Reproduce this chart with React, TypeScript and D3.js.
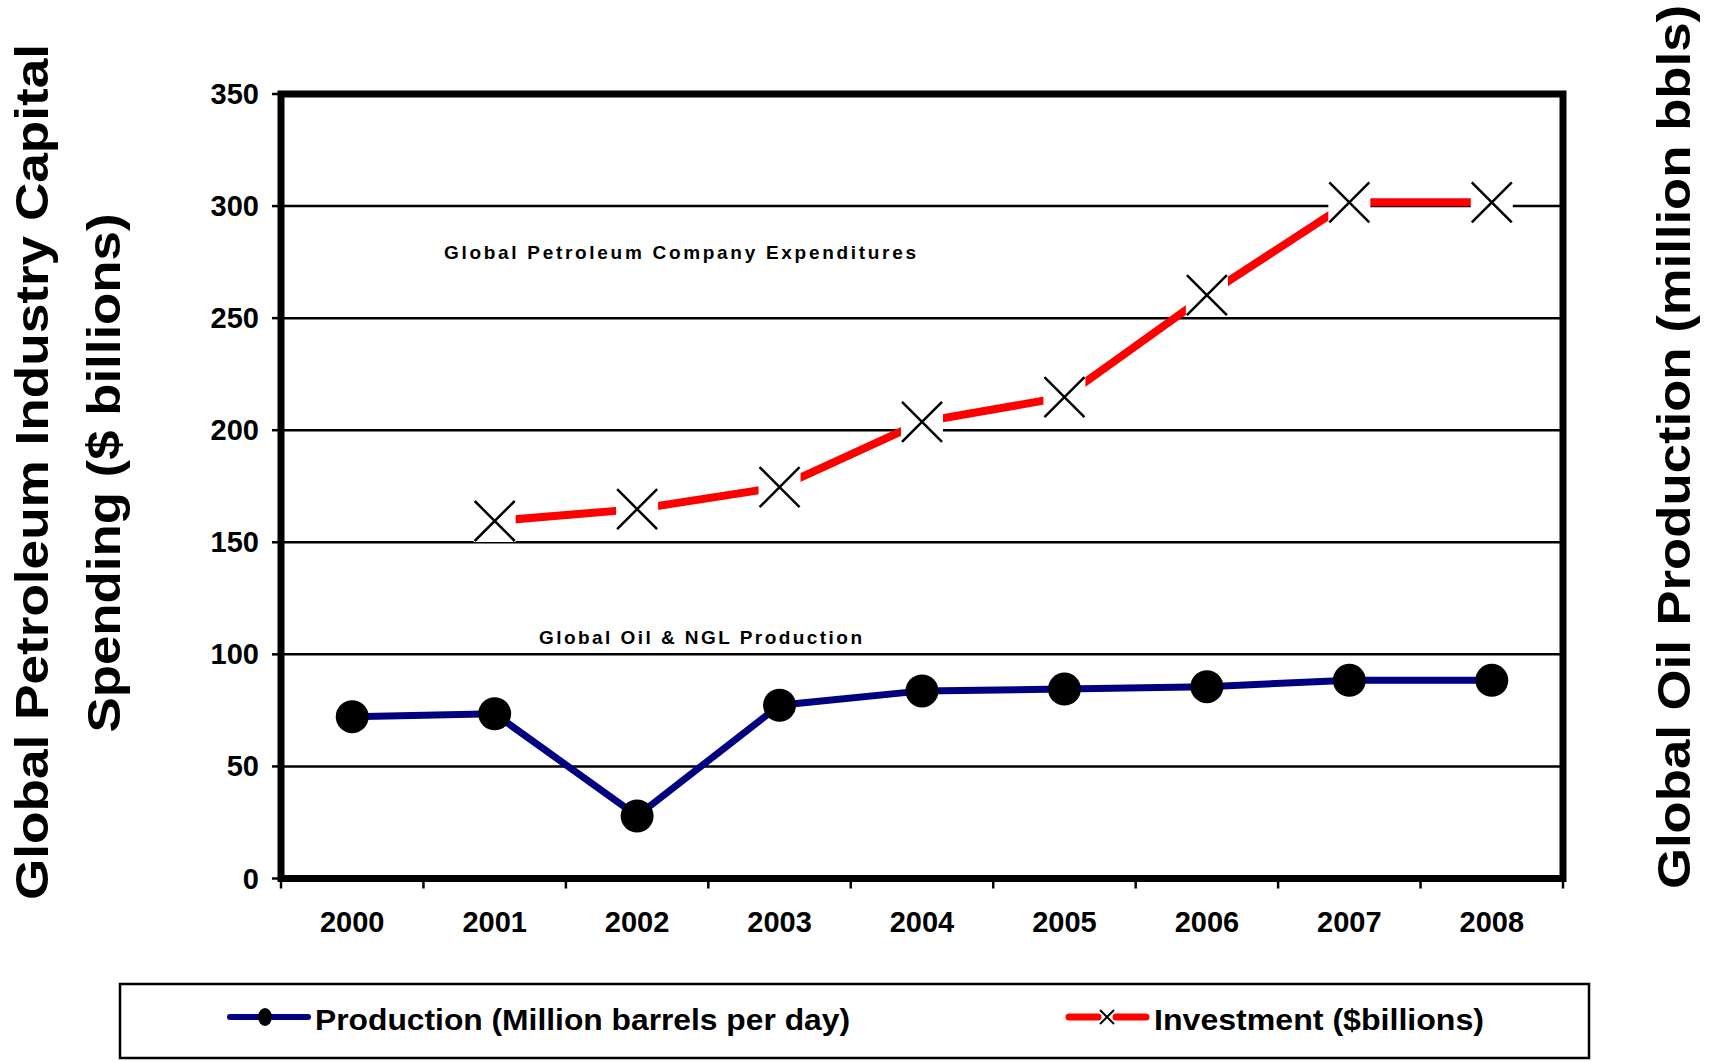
import React from "react";
import * as d3 from "d3";

const years = ["2000", "2001", "2002", "2003", "2004", "2005", "2006", "2007", "2008"];
const production = [72.2, 73.5, 27.9, 77.3, 83.7, 84.5, 85.6, 88.4, 88.4];
const investmentYears = ["2001", "2002", "2003", "2004", "2005", "2006", "2007", "2008"];
const investment = [159.5, 164.8, 174.6, 203.7, 214.8, 260.3, 301.7, 301.7];
const yTicks = [0, 50, 100, 150, 200, 250, 300, 350];

const FONT = "'Liberation Sans', Arial, Helvetica, sans-serif";

export default function App() {
  const W = 1720, H = 1062;
  const left = 281, right = 1563, top = 94, bottom = 878.5;
  const x = d3.scaleBand<string>().domain(years).range([left, right]);
  const y = d3.scaleLinear().domain([0, 350]).range([bottom, top]);
  const cx = (yr: string) => (x(yr) as number) + x.bandwidth() / 2;

  const prodLine = d3.line<number>().x((_, i) => cx(years[i])).y((d) => y(d))(production) as string;
  const invLine = d3.line<number>().x((_, i) => cx(investmentYears[i])).y((d) => y(d))(investment) as string;

  const boundaries = years.map((yr) => x(yr) as number).concat([right]);
  const ms = 20; // half marker size

  return (
    <svg width={W} height={H} style={{ position: "absolute", left: 0, top: 0, background: "#fff" }} fontFamily={FONT}>
      <rect x={0} y={0} width={W} height={H} fill="#fff" />
      {/* gridlines */}
      {yTicks.filter((t) => t > 0 && t < 350).map((t) => (
        <line key={t} x1={left} x2={right} y1={y(t)} y2={y(t)} stroke="#000" strokeWidth={2.5} />
      ))}
      {/* y ticks and labels */}
      {yTicks.map((t) => (
        <g key={"yt" + t}>
          <line x1={left - 9} x2={left} y1={y(t)} y2={y(t)} stroke="#000" strokeWidth={2.5} />
          <text x={259} y={y(t) + 10} textAnchor="end" fontSize={29} fontWeight="bold">{t}</text>
        </g>
      ))}
      {/* x ticks */}
      {boundaries.map((b, i) => (
        <line key={"xt" + i} x1={b} x2={b} y1={bottom} y2={bottom + 10} stroke="#000" strokeWidth={2.5} />
      ))}
      {years.map((yr) => (
        <text key={"xl" + yr} x={cx(yr)} y={932} textAnchor="middle" fontSize={29} fontWeight="bold">{yr}</text>
      ))}
      {/* frame */}
      <rect x={left} y={top} width={right - left} height={bottom - top} fill="none" stroke="#000" strokeWidth={7} />

      {/* investment line */}
      <path d={invLine} fill="none" stroke="#ff0000" strokeWidth={8} />
      {investment.map((v, i) => {
        const px = cx(investmentYears[i]);
        const py = y(v);
        return (
          <g key={"inv" + i}>
            <rect x={px - 21} y={py - 21} width={42} height={42} fill="#fff" />
            <line x1={px - ms} y1={py - ms} x2={px + ms} y2={py + ms} stroke="#000" strokeWidth={2.5} />
            <line x1={px - ms} y1={py + ms} x2={px + ms} y2={py - ms} stroke="#000" strokeWidth={2.5} />
          </g>
        );
      })}

      {/* production line */}
      <path d={prodLine} fill="none" stroke="#000080" strokeWidth={7} />
      {production.map((v, i) => (
        <circle key={"p" + i} cx={cx(years[i])} cy={y(v)} r={16.5} fill="#000" />
      ))}

      {/* annotations */}
      <text x={444} y={259} fontSize={19} fontWeight="bold" textLength={472} lengthAdjust="spacing">Global Petroleum Company Expenditures</text>
      <text x={539} y={644} fontSize={19} fontWeight="bold" textLength={323} lengthAdjust="spacing">Global Oil &amp; NGL Production</text>

      {/* axis titles */}
      <text transform="translate(48,472) rotate(-90)" textAnchor="middle" fontSize={46} fontWeight="bold" textLength={856} lengthAdjust="spacingAndGlyphs">Global Petroleum Industry Capital</text>
      <text transform="translate(120,473) rotate(-90)" textAnchor="middle" fontSize={46} fontWeight="bold" textLength={519} lengthAdjust="spacingAndGlyphs">Spending ($ billions)</text>
      <text transform="translate(1690,447) rotate(-90)" textAnchor="middle" fontSize={46} fontWeight="bold" textLength={884} lengthAdjust="spacingAndGlyphs">Global Oil Production (million bbls)</text>

      {/* legend */}
      <rect x={120} y={984} width={1469} height={74} fill="#fff" stroke="#000" strokeWidth={2.5} />
      <line x1={230} x2={308} y1={1017} y2={1017} stroke="#000080" strokeWidth={6} strokeLinecap="round" />
      <ellipse cx={265} cy={1017} rx={7} ry={9} fill="#000" />
      <text x={315} y={1030} fontSize={30} fontWeight="bold" textLength={535} lengthAdjust="spacingAndGlyphs">Production (Million barrels per day)</text>
      <line x1={1069} x2={1098} y1={1017} y2={1017} stroke="#ff0000" strokeWidth={7} strokeLinecap="round" />
      <line x1={1116} x2={1146} y1={1017} y2={1017} stroke="#ff0000" strokeWidth={7} strokeLinecap="round" />
      <line x1={1100} y1={1010} x2={1114} y2={1024} stroke="#000" strokeWidth={2} />
      <line x1={1100} y1={1024} x2={1114} y2={1010} stroke="#000" strokeWidth={2} />
      <text x={1154} y={1030} fontSize={30} fontWeight="bold" textLength={330} lengthAdjust="spacingAndGlyphs">Investment ($billions)</text>
    </svg>
  );
}
